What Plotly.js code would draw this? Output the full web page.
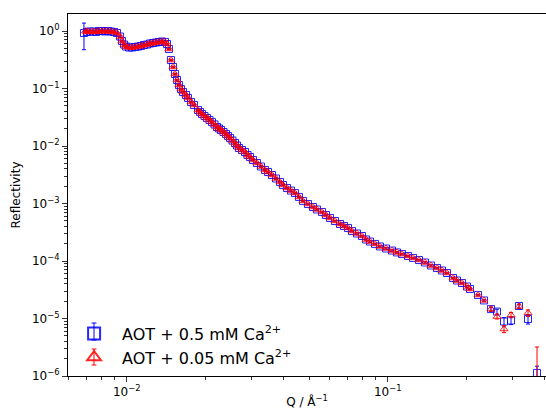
<!DOCTYPE html>
<html><head><meta charset="utf-8">
<script src="https://cdn.plot.ly/plotly-3.0.1.min.js"></script>
<style>html,body{margin:0;padding:0;background:#fff}#chart{width:546px;height:409px}</style>
</head><body><div id="chart"></div>
<script>
// Main body of both curves (shared Q grid)
var qBody = [0.00704,0.00723,0.00743,0.00763,0.00783,0.00804,0.00826,0.00848,0.00871,0.00894,0.00918,0.00943,0.00959,0.00977,0.00994,
 0.01020,0.01048,0.01076,0.01105,0.01134,0.01165,0.01196,0.01228,0.01261,0.01295,0.01330,0.01365,0.01402,0.01427,0.01452,0.01478,
 0.01505,0.01531,0.01559,0.01586,0.01614,0.01643,0.01687,0.01718,0.01764,0.01811,0.01876,0.01909,0.01943,0.01987,0.02031,0.02076,
 0.02122,0.02170,0.02218,0.02257,0.02298,0.02349,0.02402,0.02444,0.02488,0.02543,0.02600,0.02646,0.02693,0.02766,0.02840,0.02903,
 0.02968,0.03047,0.03156,0.03270,0.03389,0.03478,0.03603,0.03733,0.03867,0.03970,0.04113,0.04261,0.04413,0.04573,0.04736,0.04950,
 0.05174,0.05358,0.05602,0.05801,0.06010,0.06283,0.06566,0.06801,0.07045,0.07298,0.07627,0.07970,0.0826,0.08554,0.0894,0.09344,
 0.09851,0.10387,0.10853,0.11346,0.1196,0.12504,0.1318,0.13899,0.1465,0.1545,0.1614,0.16875,0.1779,0.1843,0.1926,0.2013,0.2067,
 0.2218,0.2339];
var rBlueBody = [0.961,0.980,0.980,0.961,1.0,1.0,0.980,1.0,0.980,0.961,0.923,0.802,0.670,0.582,0.537,
 0.516,0.516,0.527,0.537,0.548,0.571,0.582,0.606,0.618,0.631,0.644,0.657,0.644,0.594,0.486,0.313,
 0.237,0.179,0.1405,0.1151,0.0980,0.0869,0.0771,0.0684,0.0582,0.0516,0.0423,0.0390,0.0360,0.0332,0.0307,0.0283,
 0.0261,0.0237,0.0214,0.0202,0.0190,0.0175,0.0162,0.0149,0.0138,0.01246,0.01128,0.0102,0.00923,0.00852,0.00786,0.00697,
 0.00644,0.00571,0.00506,0.00440,0.00383,0.00353,0.00313,0.00272,0.00237,0.00210,0.00186,0.00168,0.00152,0.00130,0.00111,0.000980,
 0.000869,0.000787,0.000712,0.000631,0.000560,0.000496,0.000440,0.000406,0.000375,0.000332,0.000301,0.000272,0.000237,0.000218,0.000198,0.000179,
 0.000165,0.000152,0.000141,0.000132,0.000122,0.000113,0.000104,0.0000942,0.0000835,0.0000755,0.0000684,0.0000618,0.0000506,0.0000458,0.0000414,0.0000360,0.0000326,
 0.0000256,0.0000206];
var rRedBody = [0.961,0.980,0.980,0.961,1.0,1.0,0.980,1.0,0.980,0.961,0.923,0.802,0.670,0.582,0.537,
 0.516,0.516,0.527,0.537,0.548,0.571,0.582,0.606,0.618,0.631,0.644,0.657,0.644,0.594,0.486,0.313,
 0.237,0.179,0.1405,0.1151,0.0980,0.0869,0.0771,0.0684,0.0582,0.0516,0.0423,0.0390,0.0360,0.0332,0.0307,0.0283,
 0.0261,0.0237,0.0214,0.0202,0.0190,0.0175,0.0162,0.0149,0.0138,0.01246,0.01128,0.0102,0.00923,0.00852,0.00786,0.00697,
 0.00644,0.00571,0.00506,0.00440,0.00383,0.00353,0.00313,0.00272,0.00237,0.00210,0.00186,0.00168,0.00152,0.00130,0.00111,0.000980,
 0.000869,0.000787,0.000712,0.000631,0.000560,0.000496,0.000440,0.000406,0.000375,0.000332,0.000301,0.000272,0.000237,0.000218,0.000198,0.000179,
 0.000165,0.000152,0.000141,0.000132,0.000122,0.000113,0.000104,0.0000942,0.0000835,0.0000755,0.0000684,0.0000618,0.0000506,0.0000458,0.0000414,0.0000360,0.0000326,
 0.0000256,0.0000206];
var errPctBody = 3;

// Edge points with individually read error bars
var qBlueEdge   = [0.00686, 0.2487, 0.2623, 0.2790, 0.2968, 0.3185, 0.3448, 0.3733];
var rBlueEdge   = [0.923, 0.0000146, 0.0000132, 0.00000887, 0.00000923, 0.0000165, 0.0000098, 0.00000113];
var eBlueEdge   = [0.45, 0.0000012, 0.0000013, 0.0000015, 0.0000014, 0.0000013, 0.0000018, 0.00000035];
var qRedEdge    = [0.00696, 0.2487, 0.2623, 0.2790, 0.2968, 0.3185, 0.3448, 0.3733];
var rRedEdge    = [1.0, 0.0000146, 0.0000108, 0.00000657, 0.0000115, 0.0000162, 0.0000125, 0.0000008];
var eRedEdge    = [0.03, 0.0000012, 0.0000010, 0.0000009, 0.0000012, 0.0000013, 0.0000016, 0.0000024];

var seriesNames = ['AOT + 0.5 mM Ca<sup>2+</sup>', 'AOT + 0.05 mM Ca<sup>2+</sup>'];
var xTickVals = [0.01, 0.1];
var xTickText = ['10<sup>\u22122</sup>', '10<sup>\u22121</sup>'];
var yTickVals = [1e-6, 1e-5, 1e-4, 1e-3, 1e-2, 1e-1, 1];
var yTickText = ['10<sup>\u22126</sup>','10<sup>\u22125</sup>','10<sup>\u22124</sup>','10<sup>\u22123</sup>','10<sup>\u22122</sup>','10<sup>\u22121</sup>','10<sup>0</sup>'];

function minorTicks(lo, hi) {
  var out = [];
  for (var e = lo; e <= hi; e++) for (var m = 2; m <= 9; m++) out.push(m * Math.pow(10, e));
  return out;
}

var BLUE = '#0000ff', RED = '#ff0000';
function mk(sym, col) { return {symbol: sym, size: 7, color: col, opacity: 0.85, line: {color: col, width: 1}}; }

var traces = [
  {x: qBody, y: rBlueBody, type: 'scatter', mode: 'markers', name: seriesNames[0], legendgroup: 'b',
   marker: mk('square-open', BLUE),
   error_y: {type: 'percent', value: errPctBody, color: BLUE, thickness: 1, width: 2}},
  {x: qBlueEdge, y: rBlueEdge, type: 'scatter', mode: 'markers', name: seriesNames[0], legendgroup: 'b', showlegend: false,
   marker: mk('square-open', BLUE),
   error_y: {type: 'data', array: eBlueEdge, color: BLUE, thickness: 1, width: 2}},
  {x: qBody, y: rRedBody, type: 'scatter', mode: 'markers', name: seriesNames[1], legendgroup: 'r',
   marker: mk('triangle-up-open', RED),
   error_y: {type: 'percent', value: errPctBody, color: RED, thickness: 1, width: 2}},
  {x: qRedEdge, y: rRedEdge, type: 'scatter', mode: 'markers', name: seriesNames[1], legendgroup: 'r', showlegend: false,
   marker: mk('triangle-up-open', RED),
   error_y: {type: 'data', array: eRedEdge, color: RED, thickness: 1, width: 2}}
];

// Error-bar glyphs for the legend keys (paper coordinates)
function legendBar(col, yTop, yBot) {
  var xc = 0.0544, hw = 0.0052, ln = {color: col, width: 1};
  return [
    {type: 'line', xref: 'paper', yref: 'paper', x0: xc, x1: xc, y0: yTop, y1: yBot, line: ln},
    {type: 'line', xref: 'paper', yref: 'paper', x0: xc - hw, x1: xc + hw, y0: yTop, y1: yTop, line: ln},
    {type: 'line', xref: 'paper', yref: 'paper', x0: xc - hw, x1: xc + hw, y0: yBot, y1: yBot, line: ln}
  ];
}

var font = {family: 'DejaVu Sans, sans-serif', size: 12, color: '#000'};
var layout = {
  width: 546, height: 409,
  margin: {l: 68, r: 0, t: 14, b: 33, pad: 0},
  paper_bgcolor: '#fff', plot_bgcolor: '#fff',
  font: font,
  showlegend: true,
  legend: {x: -0.004, y: 0.004, xanchor: 'left', yanchor: 'bottom', bgcolor: 'rgba(0,0,0,0)',
           font: {family: 'DejaVu Sans, sans-serif', size: 16, color: '#000'}, itemsizing: 'constant', itemwidth: 46, tracegroupgap: 0},
  shapes: legendBar(BLUE, 0.1464, 0.0994).concat(legendBar(RED, 0.0746, 0.0304)),
  xaxis: {type: 'log', range: [-2.2249, -0.3935], showgrid: false, zeroline: false,
          showline: true, linecolor: '#000', linewidth: 1, mirror: true,
          ticks: 'outside', ticklen: 5, tickwidth: 1, tickcolor: '#333',
          tickvals: xTickVals, ticktext: xTickText, tickfont: font,
          minor: {tickvals: minorTicks(-3, -1), ticks: 'outside', ticklen: 3, tickwidth: 1, tickcolor: '#333', showgrid: false},
          title: {text: 'Q / \u00c5<sup>\u22121</sup>', font: font, standoff: 5}},
  yaxis: {type: 'log', range: [-6, 0.2957], showgrid: false, zeroline: false,
          showline: true, linecolor: '#000', linewidth: 1, mirror: false,
          ticks: 'outside', ticklen: 5, tickwidth: 1, tickcolor: '#333',
          tickvals: yTickVals, ticktext: yTickText, tickfont: font,
          minor: {tickvals: minorTicks(-6, 0), ticks: 'outside', ticklen: 3, tickwidth: 1, tickcolor: '#333', showgrid: false},
          title: {text: 'Reflectivity', font: font, standoff: 8}}
};
Plotly.newPlot('chart', traces, layout, {displayModeBar: false, staticPlot: true});
</script></body></html>
